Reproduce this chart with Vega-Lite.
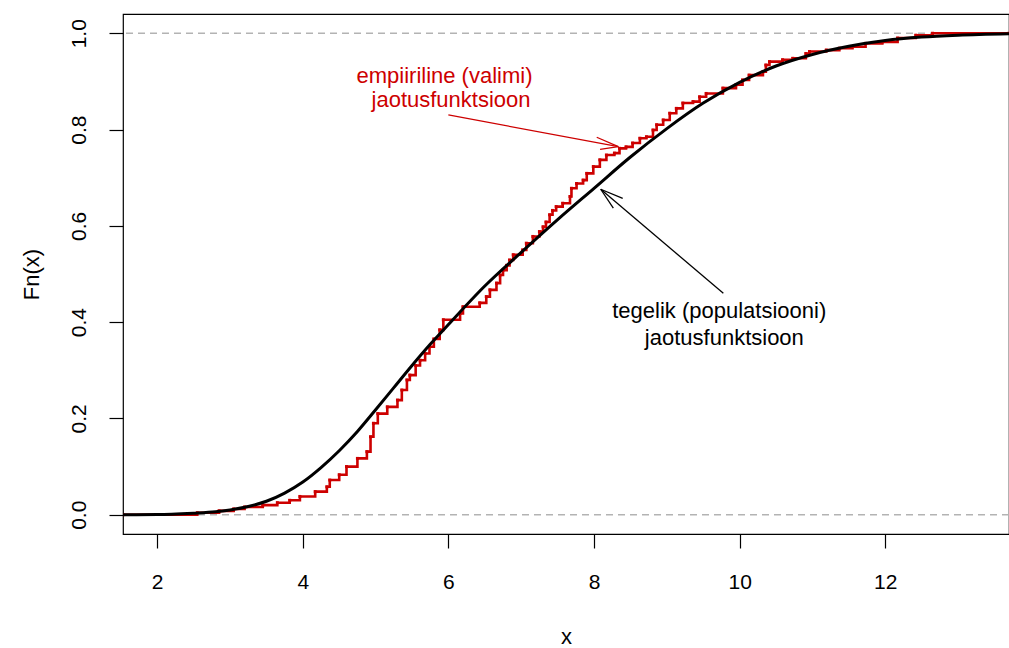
{
  "$schema": "https://vega.github.io/schema/vega-lite/v6.json",
  "width": 886,
  "height": 520,
  "autosize": {"type": "none"},
  "padding": {"left": 123, "top": 14, "right": 0, "bottom": 114},
  "background": "white",
  "config": {
    "view": {"stroke": "black", "strokeWidth": 1.2},
    "font": "Liberation Sans",
    "axis": {
      "domain": false, "grid": false, "tickColor": "black", "tickWidth": 1.2, "tickSize": 14,
      "labelColor": "black", "labelFont": "Liberation Sans", "labelFontSize": 21,
      "titleColor": "black", "titleFont": "Liberation Sans", "titleFontSize": 22, "titleFontWeight": "normal",
      "labelFlush": false, "labelOverlap": false
    }
  },
  "datasets": {
    "ecdf": [
      {"x": 1.53, "y": 0}, {"x": 2.55, "y": 0.004}, {"x": 2.85, "y": 0.008}, {"x": 3.05, "y": 0.012},
      {"x": 3.2, "y": 0.016}, {"x": 3.45, "y": 0.02}, {"x": 3.65, "y": 0.025}, {"x": 3.82, "y": 0.03},
      {"x": 3.96, "y": 0.038}, {"x": 4.17, "y": 0.048}, {"x": 4.33, "y": 0.058}, {"x": 4.37, "y": 0.072},
      {"x": 4.5, "y": 0.083}, {"x": 4.6, "y": 0.1}, {"x": 4.75, "y": 0.117}, {"x": 4.88, "y": 0.131},
      {"x": 4.93, "y": 0.162}, {"x": 4.97, "y": 0.19}, {"x": 5.03, "y": 0.21}, {"x": 5.16, "y": 0.224},
      {"x": 5.3, "y": 0.238}, {"x": 5.36, "y": 0.259}, {"x": 5.43, "y": 0.28}, {"x": 5.47, "y": 0.29},
      {"x": 5.55, "y": 0.31}, {"x": 5.61, "y": 0.321}, {"x": 5.68, "y": 0.335}, {"x": 5.74, "y": 0.349},
      {"x": 5.8, "y": 0.365}, {"x": 5.88, "y": 0.384}, {"x": 5.93, "y": 0.405}, {"x": 6.16, "y": 0.418},
      {"x": 6.2, "y": 0.432}, {"x": 6.43, "y": 0.44}, {"x": 6.52, "y": 0.453}, {"x": 6.57, "y": 0.467},
      {"x": 6.66, "y": 0.481}, {"x": 6.71, "y": 0.498}, {"x": 6.75, "y": 0.508}, {"x": 6.8, "y": 0.518},
      {"x": 6.84, "y": 0.529}, {"x": 6.89, "y": 0.54}, {"x": 7.02, "y": 0.55}, {"x": 7.07, "y": 0.564},
      {"x": 7.16, "y": 0.578}, {"x": 7.25, "y": 0.588}, {"x": 7.3, "y": 0.598}, {"x": 7.34, "y": 0.608},
      {"x": 7.39, "y": 0.623}, {"x": 7.43, "y": 0.632}, {"x": 7.48, "y": 0.64}, {"x": 7.57, "y": 0.647},
      {"x": 7.67, "y": 0.661}, {"x": 7.69, "y": 0.678}, {"x": 7.76, "y": 0.688}, {"x": 7.85, "y": 0.695},
      {"x": 7.9, "y": 0.709}, {"x": 7.99, "y": 0.723}, {"x": 8.08, "y": 0.737}, {"x": 8.17, "y": 0.747},
      {"x": 8.28, "y": 0.751}, {"x": 8.35, "y": 0.761}, {"x": 8.44, "y": 0.764}, {"x": 8.53, "y": 0.772},
      {"x": 8.63, "y": 0.782}, {"x": 8.72, "y": 0.785}, {"x": 8.81, "y": 0.799}, {"x": 8.86, "y": 0.81},
      {"x": 8.95, "y": 0.82}, {"x": 9.04, "y": 0.834}, {"x": 9.13, "y": 0.844}, {"x": 9.22, "y": 0.855},
      {"x": 9.36, "y": 0.858}, {"x": 9.45, "y": 0.868}, {"x": 9.54, "y": 0.875}, {"x": 9.77, "y": 0.886},
      {"x": 9.95, "y": 0.893}, {"x": 10.04, "y": 0.903}, {"x": 10.13, "y": 0.913}, {"x": 10.32, "y": 0.92},
      {"x": 10.36, "y": 0.934}, {"x": 10.41, "y": 0.941}, {"x": 10.59, "y": 0.945}, {"x": 10.73, "y": 0.948},
      {"x": 10.91, "y": 0.958}, {"x": 10.96, "y": 0.962}, {"x": 11.19, "y": 0.965}, {"x": 11.37, "y": 0.969},
      {"x": 11.55, "y": 0.972}, {"x": 11.73, "y": 0.979}, {"x": 11.96, "y": 0.982}, {"x": 12.17, "y": 0.99},
      {"x": 12.42, "y": 0.996}, {"x": 12.65, "y": 1.0}, {"x": 13.7, "y": 1.0}
    ],
    "cdf": [
      {"x": 1.53, "y": 0}, {"x": 2.0, "y": 0.0005}, {"x": 2.2, "y": 0.001}, {"x": 2.5, "y": 0.003},
      {"x": 2.8, "y": 0.006}, {"x": 3.0, "y": 0.01}, {"x": 3.25, "y": 0.017}, {"x": 3.5, "y": 0.028},
      {"x": 3.75, "y": 0.045}, {"x": 4.0, "y": 0.068}, {"x": 4.25, "y": 0.098}, {"x": 4.5, "y": 0.133},
      {"x": 4.75, "y": 0.173}, {"x": 5.0, "y": 0.218}, {"x": 5.25, "y": 0.264}, {"x": 5.5, "y": 0.31},
      {"x": 5.75, "y": 0.354}, {"x": 6.0, "y": 0.395}, {"x": 6.5, "y": 0.475}, {"x": 7.0, "y": 0.545},
      {"x": 7.5, "y": 0.613}, {"x": 8.0, "y": 0.678}, {"x": 8.5, "y": 0.743}, {"x": 9.0, "y": 0.802},
      {"x": 9.5, "y": 0.855}, {"x": 10.0, "y": 0.898}, {"x": 10.5, "y": 0.932}, {"x": 11.0, "y": 0.956},
      {"x": 11.5, "y": 0.973}, {"x": 12.0, "y": 0.985}, {"x": 12.5, "y": 0.992}, {"x": 13.0, "y": 0.996},
      {"x": 13.7, "y": 0.999}
    ],
    "hlines": [{"y": 0}, {"y": 1}],
    "redArrow": [
      {"x": 5.999, "y": 0.8303, "x2": 8.334, "y2": 0.7645},
      {"x": 8.037, "y": 0.784, "x2": 8.334, "y2": 0.7645},
      {"x": 8.083, "y": 0.759, "x2": 8.334, "y2": 0.7645}
    ],
    "blackArrow": [
      {"x": 9.776, "y": 0.46, "x2": 8.092, "y2": 0.676},
      {"x": 8.394, "y": 0.657, "x2": 8.092, "y2": 0.676},
      {"x": 8.265, "y": 0.6366, "x2": 8.092, "y2": 0.676}
    ],
    "redText": [
      {"x": 5.946, "y": 0.8974, "label": "empiiriline (valimi)"},
      {"x": 6.036, "y": 0.8476, "label": "jaotusfunktsioon"}
    ],
    "blackText": [
      {"x": 9.72, "y": 0.408, "label": "tegelik (populatsiooni)"},
      {"x": 9.79, "y": 0.3527, "label": "jaotusfunktsioon"}
    ]
  },
  "encoding": {
    "x": {
      "field": "x", "type": "quantitative",
      "scale": {"domain": [1.53, 13.7], "nice": false, "zero": false},
      "axis": {
        "values": [2, 4, 6, 8, 10, 12], "title": "x",
        "labelBaseline": "alphabetic", "labelPadding": 40,
        "titleBaseline": "alphabetic", "titleY": 109
      }
    },
    "y": {
      "field": "y", "type": "quantitative",
      "scale": {"domain": [-0.04, 1.04], "nice": false, "zero": false},
      "axis": {
        "values": [0, 0.2, 0.4, 0.6, 0.8, 1.0], "format": ".1f", "title": "Fn(x)",
        "labelAngle": 270, "labelAlign": "center", "labelBaseline": "alphabetic", "labelPadding": 24,
        "titleAngle": 270, "titleAlign": "center", "titleBaseline": "alphabetic", "titleX": -85, "titleY": 260
      }
    }
  },
  "layer": [
    {
      "data": {"name": "hlines"},
      "mark": {"type": "rule", "color": "#b3b3b3", "strokeDash": [7, 5], "strokeWidth": 1.3},
      "encoding": {"x": null}
    },
    {
      "data": {"name": "ecdf"},
      "mark": {"type": "line", "interpolate": "step-after", "color": "#cd0000", "strokeWidth": 2.6, "clip": true}
    },
    {
      "data": {"name": "ecdf"},
      "mark": {"type": "square", "color": "#cd0000", "size": 9, "opacity": 1, "clip": true}
    },
    {
      "data": {"name": "cdf"},
      "mark": {"type": "line", "interpolate": "monotone", "color": "black", "strokeWidth": 3, "clip": true}
    },
    {
      "data": {"name": "redArrow"},
      "mark": {"type": "rule", "color": "#cd0000", "strokeWidth": 1.3},
      "encoding": {"x2": {"field": "x2"}, "y2": {"field": "y2"}}
    },
    {
      "data": {"name": "blackArrow"},
      "mark": {"type": "rule", "color": "black", "strokeWidth": 1.3},
      "encoding": {"x2": {"field": "x2"}, "y2": {"field": "y2"}}
    },
    {
      "data": {"name": "redText"},
      "mark": {"type": "text", "color": "#cd0000", "fontSize": 22, "font": "Liberation Sans", "align": "center", "baseline": "alphabetic"},
      "encoding": {"text": {"field": "label"}}
    },
    {
      "data": {"name": "blackText"},
      "mark": {"type": "text", "color": "black", "fontSize": 22, "font": "Liberation Sans", "align": "center", "baseline": "alphabetic"},
      "encoding": {"text": {"field": "label"}}
    }
  ]
}
